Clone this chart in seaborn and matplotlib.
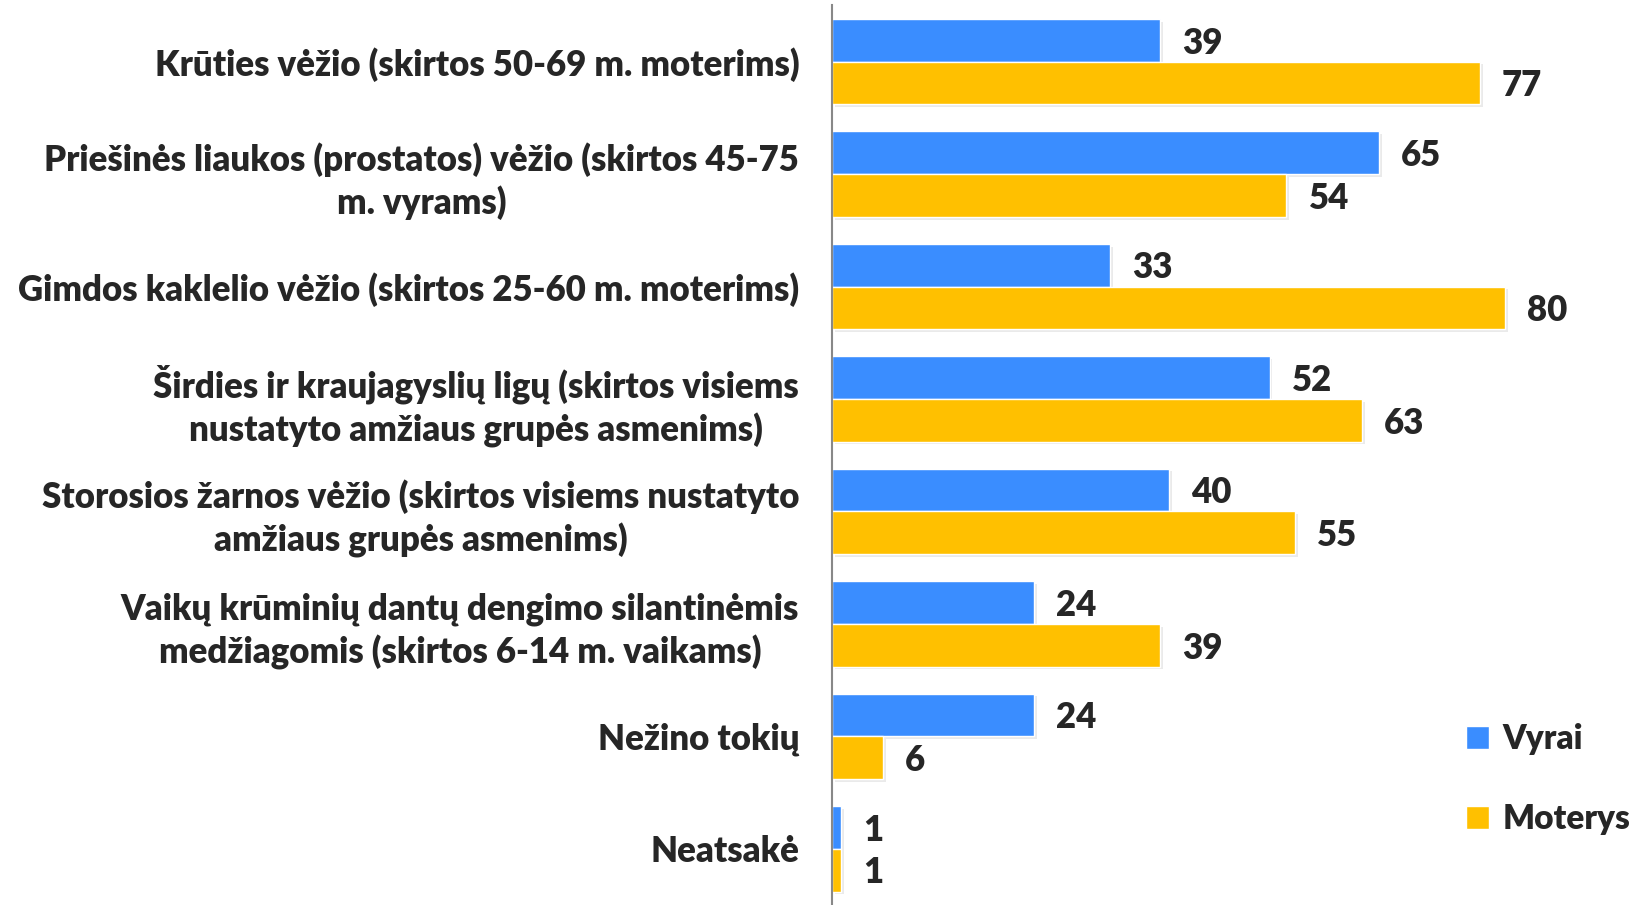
import numpy as np
import pandas as pd
import seaborn as sns
import matplotlib.pyplot as plt
from matplotlib import patheffects as pe
from matplotlib.patches import Patch

sns.set_style('white')
plt.rcParams['font.family'] = ['Lato', 'DejaVu Sans']
plt.rcParams['font.weight'] = 'bold'

# Duomenys
kategorijos = [
    'Krūties vėžio (skirtos 50-69 m. moterims)',
    'Priešinės liaukos (prostatos) vėžio (skirtos 45-75\nm. vyrams)',
    'Gimdos kaklelio vėžio (skirtos 25-60 m. moterims)',
    'Širdies ir kraujagyslių ligų (skirtos visiems\nnustatyto amžiaus grupės asmenims)',
    'Storosios žarnos vėžio (skirtos visiems nustatyto\namžiaus grupės asmenims)',
    'Vaikų krūminių dantų dengimo silantinėmis\nmedžiagomis (skirtos 6-14 m. vaikams)',
    'Nežino tokių',
    'Neatsakė',
]
vyrai = [39, 65, 33, 52, 40, 24, 24, 1]
moterys = [77, 54, 80, 63, 55, 39, 6, 1]
serijos = ['Vyrai', 'Moterys']
spalvos = ['#3A8DFF', '#FFC000']

df = pd.DataFrame({
    'kat': kategorijos * 2,
    'proc': vyrai + moterys,
    'lytis': ['Vyrai'] * len(vyrai) + ['Moterys'] * len(moterys),
})

fig = plt.figure(figsize=(16.42, 9.05), dpi=100)
ax = fig.add_axes([0.507, 0.0, 0.493, 0.994])

sns.barplot(data=df, y='kat', x='proc', hue='lytis', hue_order=serijos,
            palette=spalvos, width=0.76, orient='h', ax=ax, legend=False,
            saturation=1)

for cont in ax.containers:
    for p in cont:
        p.set_path_effects([pe.SimplePatchShadow(offset=(2, -2), shadow_rgbFace='#999999', alpha=0.2),
                            pe.Normal()])
    labels = ax.bar_label(cont, padding=16, fontsize=25, fontweight='heavy')
    for t in labels:
        t.set_y(-2)

ax.set_xlim(0, 96.3)
ax.set_ylim(len(kategorijos) - 0.5, -0.5)
ax.set_xlabel('')
ax.set_ylabel('')
ax.set_xticks([])

ax.tick_params(axis='y', which='major', length=0, pad=24, labelsize=25)
ax.set_yticks(np.arange(-0.5, len(kategorijos)), minor=True)
ax.tick_params(axis='y', which='minor', length=8, width=1.5, color='#888888', direction='out')
for lbl in ax.get_yticklabels():
    lbl.set_multialignment('center')
    lbl.set_fontweight('heavy')
    lbl.set_linespacing(1.3)

for s in ['top', 'right', 'bottom']:
    ax.spines[s].set_visible(False)
ax.spines['left'].set_color('#888888')
ax.spines['left'].set_linewidth(1.5)

handles = [Patch(facecolor=c, label=l) for c, l in zip(spalvos, serijos)]
ax.legend(handles=handles, loc='center left', bbox_to_anchor=(0.745, 0.14),
          frameon=False, handlelength=0.7, handleheight=0.7,
          labelspacing=1.45, handletextpad=0.4, prop={'weight': 'heavy', 'size': 24})

fig.savefig('out.png', dpi=100)
